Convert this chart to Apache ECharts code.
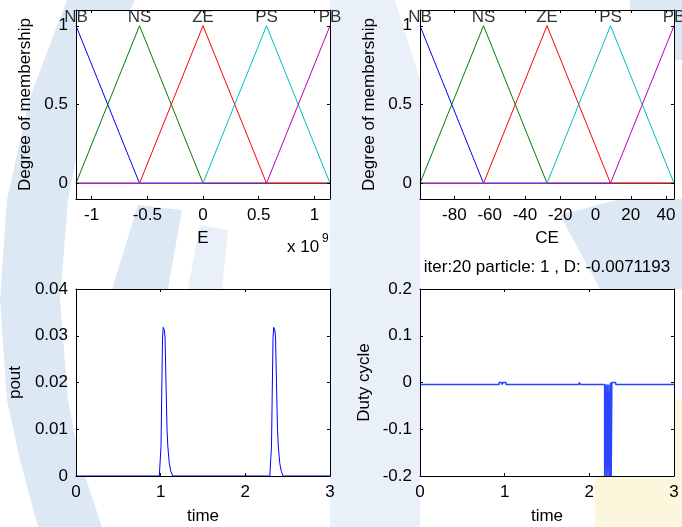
<!DOCTYPE html>
<html>
<head>
<meta charset="utf-8">
<script src="https://cdn.jsdelivr.net/npm/echarts@6/dist/echarts.min.js"></script>
<style>
html,body{margin:0;padding:0;background:#fff;}
#c{width:682px;height:527px;}
</style>
</head>
<body>
<div id="c"></div>
<script>
// ---- data ----
var mfNames = ['NB', 'NS', 'ZE', 'PS', 'PB'];
var mfColors = ['#0000ff', '#008000', '#ff0000', '#00bfbf', '#bf00bf'];
// E universe (x 10^9) : MF peak positions
var ePeaks = [-1.14, -0.57, 0, 0.57, 1.14];
var eTicks = [-1, -0.5, 0, 0.5, 1];
// CE universe : MF peak positions
var cePeaks = [-99.5, -63.5, -27.5, 8.5, 44.5];
var ceTicks = [-80, -60, -40, -20, 0, 20, 40];
var mfTicksY = [0, 0.5, 1];

var poutTime = [0, 0.984, 1.004, 1.016, 1.022, 1.030, 1.036, 1.044, 1.052, 1.063, 1.075, 1.085, 1.102, 1.120, 1.142,
                2.289, 2.309, 2.321, 2.327, 2.335, 2.341, 2.349, 2.357, 2.368, 2.380, 2.390, 2.407, 2.425, 2.447, 3];
var poutVal  = [0, 0, 0.0063, 0.0220, 0.0295, 0.0318, 0.0320, 0.0312, 0.0295, 0.0199, 0.0100, 0.0062, 0.0027, 0.0010, 0,
                0, 0.0063, 0.0220, 0.0295, 0.0318, 0.0320, 0.0312, 0.0295, 0.0199, 0.0100, 0.0062, 0.0027, 0.0010, 0, 0];

var dutyTime = [0, 0.934, 0.934, 0.966, 0.966, 0.984, 0.984, 1.016, 1.016, 1.878, 1.878, 1.898, 1.898,
                2.181, 2.181, 2.191, 2.191, 2.201, 2.201, 2.211, 2.211, 2.221, 2.221, 2.231, 2.231,
                2.241, 2.241, 2.251, 2.251, 2.258, 2.258, 2.266, 2.266, 2.311, 2.311, 3];
var dutyVal  = [-0.0043, -0.0043, 0, 0, -0.0043, -0.0043, 0, 0, -0.0043, -0.0043, 0, 0, -0.0043,
                -0.0043, -0.2, -0.2, -0.0043, -0.0043, -0.2, -0.2, -0.0043, -0.0043, -0.2, -0.2, -0.0043,
                -0.0043, -0.2, -0.2, 0, 0, -0.2, -0.2, 0, 0, -0.0043, -0.0043];

var titleText = 'iter:20 particle: 1 , D: -0.0071193';

// ---- helpers ----
var FONT = 'Liberation Sans, Arial, sans-serif';
var FS = 17;

function zip(a, b) { return a.map(function (v, i) { return [v, b[i]]; }); }

// membership function i over universe defined by peaks
function mfData(peaks, i) {
  var lo = peaks[0], hi = peaks[peaks.length - 1];
  var pts = [];
  if (i === 0) {
    pts.push([lo, 1], [peaks[1], 0], [hi, 0]);
  } else if (i === peaks.length - 1) {
    pts.push([lo, 0], [peaks[i - 1], 0], [hi, 1]);
  } else {
    pts.push([lo, 0], [peaks[i - 1], 0], [peaks[i], 1], [peaks[i + 1], 0], [hi, 0]);
  }
  return pts;
}

var grids = [
  {left: 76, top: 10, width: 254, height: 189},
  {left: 420, top: 10, width: 254, height: 189},
  {left: 76, top: 289, width: 254, height: 187},
  {left: 420, top: 289, width: 254, height: 187}
];

var axLine = {show: true, onZero: false, lineStyle: {color: '#000', width: 1}};
var lblStyle = {color: '#000', fontFamily: FONT, fontSize: FS};
var nameStyle = {color: '#000', fontFamily: FONT, fontSize: FS};

function xAx(g, min, max, opts, top) {
  var o = {
    type: 'value', gridIndex: g, min: min, max: max, position: top ? 'top' : 'bottom', z: 6,
    axisLine: axLine, splitLine: {show: false},
    axisTick: {show: true, inside: true, length: 3, lineStyle: {color: '#000'}},
    axisLabel: Object.assign({show: !top, margin: 8}, lblStyle)
  };
  if (opts.ticks) {
    o.axisTick.customValues = opts.ticks;
    o.axisLabel.customValues = opts.ticks;
  }
  if (opts.interval) o.interval = opts.interval;
  if (!top && opts.name) {
    o.name = opts.name; o.nameLocation = 'middle'; o.nameGap = opts.nameGap; o.nameTextStyle = nameStyle;
  }
  return o;
}
function yAx(g, min, max, opts, right) {
  var o = {
    type: 'value', gridIndex: g, min: min, max: max, position: right ? 'right' : 'left', z: 6,
    axisLine: axLine, splitLine: {show: false},
    axisTick: {show: true, inside: true, length: 3, lineStyle: {color: '#000'}},
    axisLabel: Object.assign({show: !right, margin: 8}, lblStyle)
  };
  if (opts.ticks) {
    o.axisTick.customValues = opts.ticks;
    o.axisLabel.customValues = opts.ticks;
  }
  if (opts.interval) o.interval = opts.interval;
  if (!right && opts.name) {
    o.name = opts.name; o.nameLocation = 'middle'; o.nameGap = opts.nameGap; o.nameTextStyle = nameStyle;
  }
  return o;
}

var xAxes = [], yAxes = [];
var xDefs = [
  [ePeaks[0], ePeaks[4], {ticks: eTicks, name: 'E', nameGap: 31}],
  [cePeaks[0], cePeaks[4], {ticks: ceTicks, name: 'CE', nameGap: 31}],
  [0, 3, {interval: 1, name: 'time', nameGap: 32}],
  [0, 3, {interval: 1, name: 'time', nameGap: 32}]
];
var yDefs = [
  [-0.1, 1.1, {ticks: mfTicksY, name: 'Degree of membership', nameGap: 42}],
  [-0.1, 1.1, {ticks: mfTicksY, name: 'Degree of membership', nameGap: 42}],
  [0, 0.04, {interval: 0.01, name: 'pout', nameGap: 52}],
  [-0.2, 0.2, {interval: 0.1, name: 'Duty cycle', nameGap: 47}]
];
for (var g = 0; g < 4; g++) {
  xAxes.push(xAx(g, xDefs[g][0], xDefs[g][1], xDefs[g][2], false));
  yAxes.push(yAx(g, yDefs[g][0], yDefs[g][1], yDefs[g][2], false));
}
for (var g2 = 0; g2 < 4; g2++) {
  xAxes.push(xAx(g2, xDefs[g2][0], xDefs[g2][1], xDefs[g2][2], true));
  yAxes.push(yAx(g2, yDefs[g2][0], yDefs[g2][1], yDefs[g2][2], true));
}

var series = [];
[ePeaks, cePeaks].forEach(function (peaks, gi) {
  for (var i = 0; i < peaks.length; i++) {
    series.push({
      type: 'line', xAxisIndex: gi, yAxisIndex: gi, data: mfData(peaks, i), z: 4,
      symbol: 'none', lineStyle: {color: mfColors[i], width: 1}, animation: false, silent: true
    });
  }
  series.push({
    type: 'scatter', xAxisIndex: gi, yAxisIndex: gi, symbolSize: 0, silent: true, animation: false,
    data: peaks.map(function (p, i) { return {value: [p, 1.055], name: mfNames[i]}; }),
    label: {show: true, position: 'inside', formatter: '{b}', color: '#000', fontFamily: FONT, fontSize: FS},
    z: 8
  });
});
series.push({
  type: 'line', xAxisIndex: 2, yAxisIndex: 2, data: zip(poutTime, poutVal), z: 4,
  symbol: 'none', lineStyle: {color: '#0000ff', width: 1}, animation: false, silent: true
});
series.push({
  type: 'line', xAxisIndex: 3, yAxisIndex: 3, data: zip(dutyTime, dutyVal), z: 4,
  symbol: 'none', lineStyle: {color: '#2a44ff', width: 1.5}, animation: false, silent: true
});

// light watermark decoration, kept to the margins outside the plot boxes
var WM = '#dde8f5', WM2 = '#e9f0f9';
var wmShapes = [
  {pts: [[67, 0], [29, 100], [7, 200], [0, 300], [7, 400], [20, 460], [38, 527], [102, 527], [85, 476], [76, 476], [76, 442],
         [68, 400], [60, 300], [68, 200], [76, 158], [76, 10], [130, 10], [135, 0]], fill: WM},
  {pts: [[330, 0], [395, 0], [420, 80], [420, 527], [330, 527]], fill: WM2},
  {pts: [[112, 289], [138, 205], [182, 210], [168, 289]], fill: WM},
  {pts: [[188, 289], [200, 225], [228, 230], [222, 289]], fill: WM2},
  {pts: [[560, 215], [620, 199], [682, 199], [682, 289], [600, 289]], fill: WM},
  {pts: [[630, 0], [682, 0], [682, 60], [674, 60], [674, 10], [630, 10]], fill: WM},
  {pts: [[595, 476], [674, 476], [674, 400], [682, 400], [682, 527], [595, 527]], fill: '#fcf6dc'}
];
var watermark = wmShapes.map(function (s) {
  return {type: 'polygon', z: -10, silent: true, shape: {points: s.pts}, style: {fill: s.fill}};
});

var option = {
  backgroundColor: '#ffffff',
  animation: false,
  grid: grids.map(function (g) {
    return Object.assign({show: true, z: 2, backgroundColor: '#ffffff', borderWidth: 0, containLabel: false}, g);
  }),
  xAxis: xAxes,
  yAxis: yAxes,
  series: series,
  graphic: watermark.concat([
    {type: 'text', z: 10, left: 287, top: 239, style: {text: 'x 10', fill: '#000', font: FS + 'px ' + FONT}},
    {type: 'text', z: 10, left: 322, top: 233, style: {text: '9', fill: '#000', font: '12px ' + FONT}},
    {type: 'text', z: 10, x: 547, y: 267, style: {text: titleText, fill: '#000', font: FS + 'px ' + FONT, textAlign: 'center', textVerticalAlign: 'middle'}}
  ])
};
var chart = echarts.init(document.getElementById('c'), null, {renderer: 'canvas'});
chart.setOption(option);
</script>
</body>
</html>
